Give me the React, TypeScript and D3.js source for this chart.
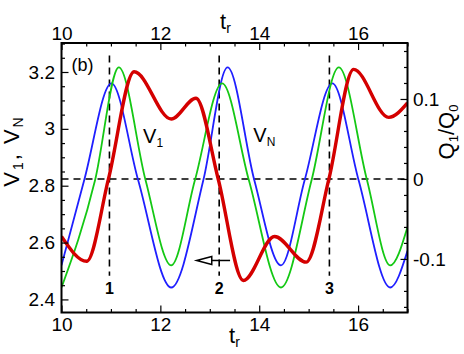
import React, { useRef, useEffect } from 'react';
import * as d3 from 'd3';

// t_r samples (peaks, troughs, crossings of the dashed line)
const blueT = [10.0, 10.46, 11.01, 11.55, 12.22, 12.87, 13.36, 13.9, 14.44, 14.92, 15.48, 16.01, 16.65, 17.0];
const blueV = [2.52, 2.82, 3.16, 2.82, 2.442, 2.82, 3.216, 2.82, 2.52, 2.82, 3.16, 2.82, 2.442, 2.571];

const greenT = [10.0, 10.68, 11.16, 11.7, 12.22, 12.7, 13.25, 13.79, 14.44, 15.06, 15.61, 16.18, 16.65, 17.0];
const greenV = [2.442, 2.82, 3.216, 2.82, 2.52, 2.82, 3.16, 2.82, 2.442, 2.82, 3.216, 2.82, 2.52, 2.655];

const redT = [10.0, 10.51, 10.95, 11.47, 12.22, 12.72, 13.17, 13.68, 14.31, 14.95, 15.41, 15.91, 16.62, 17.0];
const redQ = [-0.072, -0.103, 0.0, 0.134, 0.075, 0.101, 0.0, -0.127, -0.072, -0.104, 0.0, 0.137, 0.077, 0.095];

// instants marked 1, 2, 3
const markT = [10.97, 13.19, 15.42];
const markLabels = ['1', '2', '3'];

const xTicks = [10, 12, 14, 16];
const leftTicks = [2.4, 2.6, 2.8, 3.0, 3.2];
const rightTicks = [-0.1, 0, 0.1];

const FONT = "'Liberation Sans', Arial, Helvetica, sans-serif";

const App = () => {
    const svgRef = useRef<SVGSVGElement>(null);

    useEffect(() => {
        const svgWidth = 464;
        const svgHeight = 354;
        const margin = { top: 43, right: 56.5, bottom: 41.5, left: 61.5 };
        const width = svgWidth - margin.left - margin.right;
        const height = svgHeight - margin.top - margin.bottom;

        const svg = d3.select(svgRef.current);
        svg.selectAll('*').remove();

        const g = svg.append('g').attr('transform', `translate(${margin.left},${margin.top})`);

        const x = d3.scaleLinear().domain([10, 17]).range([0, width]);
        const yL = d3.scaleLinear().domain([2.354, 3.302]).range([height, 0]);
        const yR = d3.scaleLinear().domain([-0.167, 0.17]).range([height, 0]);

        g.append('clipPath').attr('id', 'plot-clip')
            .append('rect').attr('width', width).attr('height', height);

        const plot = g.append('g').attr('clip-path', 'url(#plot-clip)');

        // dashed reference lines
        plot.append('line')
            .attr('x1', 0).attr('x2', width)
            .attr('y1', yR(0)).attr('y2', yR(0))
            .attr('stroke', 'black').attr('stroke-width', 1.6)
            .attr('stroke-dasharray', '7,5');

        markT.forEach((t) => {
            plot.append('line')
                .attr('x1', x(t)).attr('x2', x(t))
                .attr('y1', yL(3.258)).attr('y2', yL(2.483))
                .attr('stroke', 'black').attr('stroke-width', 1.6)
                .attr('stroke-dasharray', '7,5');
        });

        const lineL = d3.line<[number, number]>()
            .x((d) => x(d[0]))
            .y((d) => yL(d[1]))
            .curve(d3.curveMonotoneX);
        const lineR = d3.line<[number, number]>()
            .x((d) => x(d[0]))
            .y((d) => yR(d[1]))
            .curve(d3.curveMonotoneX);

        plot.append('path')
            .datum(blueT.map((t, i) => [t, blueV[i]] as [number, number]))
            .attr('fill', 'none').attr('stroke', '#1f1fff').attr('stroke-width', 1.8)
            .attr('d', lineL);

        plot.append('path')
            .datum(greenT.map((t, i) => [t, greenV[i]] as [number, number]))
            .attr('fill', 'none').attr('stroke', '#14c814').attr('stroke-width', 1.8)
            .attr('d', lineL);

        plot.append('path')
            .datum(redT.map((t, i) => [t, redQ[i]] as [number, number]))
            .attr('fill', 'none').attr('stroke', '#d40000').attr('stroke-width', 3.4)
            .attr('d', lineR);

        // axes, ticks pointing inward
        const styleAxis = (sel) => {
            sel.select('.domain').remove();
            sel.selectAll('line').attr('stroke-width', 1.2);
            sel.attr('font-family', FONT).attr('font-size', 19);
        };

        const minorX = d3.range(20, 35).map((v) => v / 2).filter((v) => v % 2 !== 0);
        const minorL = d3.range(48, 67).map((v) => v / 20).filter((v) => !leftTicks.some((m) => Math.abs(m - v) < 1e-6));
        const minorR = d3.range(-8, 9).map((v) => v / 50).filter((v) => Math.abs(v * 10 - Math.round(v * 10)) > 1e-6);

        g.append('g').attr('transform', `translate(0,${height})`)
            .call(d3.axisBottom(x).tickValues(xTicks).tickSize(-7).tickPadding(5).tickFormat(d3.format('d')))
            .call(styleAxis);
        g.append('g').attr('transform', `translate(0,${height})`)
            .call(d3.axisBottom(x).tickValues(minorX).tickSize(-3.5).tickFormat(() => ''))
            .call(styleAxis);

        g.append('g')
            .call(d3.axisTop(x).tickValues(xTicks).tickSize(-7).tickPadding(3).tickFormat(d3.format('d')))
            .call(styleAxis);
        g.append('g')
            .call(d3.axisTop(x).tickValues(minorX).tickSize(-3.5).tickFormat(() => ''))
            .call(styleAxis);

        g.append('g')
            .call(d3.axisLeft(yL).tickValues(leftTicks).tickSize(-7).tickPadding(6.5).tickFormat((d) => String(d)))
            .call(styleAxis);
        g.append('g')
            .call(d3.axisLeft(yL).tickValues(minorL).tickSize(-3.5).tickFormat(() => ''))
            .call(styleAxis);

        g.append('g').attr('transform', `translate(${width},0)`)
            .call(d3.axisRight(yR).tickValues(rightTicks).tickSize(-7).tickPadding(5.5).tickFormat((d) => String(d)))
            .call(styleAxis);
        g.append('g').attr('transform', `translate(${width},0)`)
            .call(d3.axisRight(yR).tickValues(minorR).tickSize(-3.5).tickFormat(() => ''))
            .call(styleAxis);

        // frame
        g.append('rect')
            .attr('width', width).attr('height', height)
            .attr('fill', 'none').attr('stroke', 'black').attr('stroke-width', 2);

        // text with a subscript
        const subText = (parent, parts, size, subSize) => {
            const t = parent.append('text').attr('font-family', FONT).attr('font-size', size);
            parts.forEach(([s, sub]) => {
                if (sub) {
                    t.append('tspan').attr('font-size', subSize).attr('dy', 4).text(s);
                } else {
                    t.append('tspan').attr('dy', t.selectAll('tspan').size() > 0 ? -4 : 0).text(s);
                }
            });
            return t;
        };

        // axis titles
        subText(svg, [['t', false], ['r', true]], 22, 14)
            .attr('x', 220).attr('y', 33);
        subText(svg, [['t', false], ['r', true]], 22, 14)
            .attr('x', 229).attr('y', 347);
        subText(svg, [['V', false], ['1', true], [', V', false], ['N', true]], 22, 14)
            .attr('text-anchor', 'middle')
            .attr('letter-spacing', 2)
            .attr('transform', 'translate(23,151) rotate(-90)');
        subText(svg, [['Q', false], ['1', true], ['/Q', false], ['0', true]], 22, 13)
            .attr('text-anchor', 'middle')
            .attr('transform', 'translate(458,132) rotate(-90)');

        // annotations
        g.append('text').attr('x', 10).attr('y', 28)
            .attr('font-family', FONT).attr('font-size', 18).text('(b)');

        subText(g, [['V', false], ['1', true]], 20, 12)
            .attr('x', x(11.65)).attr('y', yL(2.936));
        subText(g, [['V', false], ['N', true]], 20, 12)
            .attr('x', x(13.88)).attr('y', yL(2.94));

        markT.forEach((t, i) => {
            g.append('text')
                .attr('x', x(t)).attr('y', yL(2.418))
                .attr('text-anchor', 'middle')
                .attr('font-family', FONT).attr('font-size', 16).attr('font-weight', 'bold')
                .text(markLabels[i]);
        });

        // arrow pointing back in time
        const ay = yL(2.537);
        const tip = x(12.735);
        const base = x(13.04);
        g.append('line')
            .attr('x1', base).attr('x2', x(13.41))
            .attr('y1', ay).attr('y2', ay)
            .attr('stroke', 'black').attr('stroke-width', 1.5);
        g.append('path')
            .attr('d', `M${tip},${ay} L${base},${ay - 4} L${base},${ay + 4} Z`)
            .attr('fill', 'white').attr('stroke', 'black').attr('stroke-width', 1.5);
    }, []);

    return (
        <svg ref={svgRef} width={464} height={354} style={{ position: 'absolute', left: 0, top: 0 }} />
    );
};

export default App;
